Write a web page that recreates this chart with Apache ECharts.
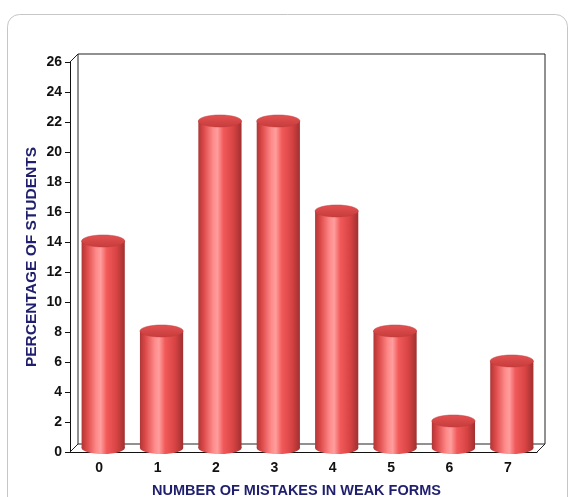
<!DOCTYPE html>
<html>
<head>
<meta charset="utf-8">
<script src="https://cdn.jsdelivr.net/npm/echarts@6/dist/echarts.min.js"></script>
<style>
  html, body { margin: 0; padding: 0; background: #ffffff; }
  #chart { width: 571px; height: 497px; }
</style>
</head>
<body>
<div id="chart"></div>
<script>
// Number of mistakes in weak forms vs. share of students
const categories = ['0', '1', '2', '3', '4', '5', '6', '7'];
const percentages = [14, 8, 22, 22, 16, 8, 2, 6];
const yTicks = [0, 2, 4, 6, 8, 10, 12, 14, 16, 18, 20, 22, 24, 26];

const DEPTH = 8;          // 3D wall offset in px
const FONT = '"Liberation Sans", Arial, sans-serif';
const NAVY = '#1f1f6e';

const bodyGradient = () => new echarts.graphic.LinearGradient(0, 0, 1, 0, [
  { offset: 0.00, color: '#b03636' },
  { offset: 0.12, color: '#dc4848' },
  { offset: 0.34, color: '#ff8a8a' },
  { offset: 0.44, color: '#ff9e9e' },
  { offset: 0.58, color: '#f25a5a' },
  { offset: 0.82, color: '#d64242' },
  { offset: 1.00, color: '#a03030' }
]);

const capGradient = () => new echarts.graphic.LinearGradient(0, 0, 0, 1, [
  { offset: 0, color: '#e45252' },
  { offset: 1, color: '#c63c3c' }
]);

// Back wall + side edges of the pseudo-3D frame
function renderFrame(params, api) {
  const cs = params.coordSys;
  const x0 = cs.x, y0 = cs.y, x1 = cs.x + cs.width, y1 = cs.y + cs.height;
  const d = DEPTH;
  const style = { stroke: '#222', lineWidth: 1, fill: null };
  return {
    type: 'group',
    silent: true,
    children: [
      { type: 'polyline', shape: { points: [[x0 + d, y1 - d], [x0 + d, y0 - d], [x1 + d, y0 - d], [x1 + d, y1 - d], [x0 + d, y1 - d]] }, style },
      { type: 'line', shape: { x1: x0, y1: y0, x2: x0 + d, y2: y0 - d }, style },
      { type: 'line', shape: { x1: x0, y1: y1, x2: x0 + d, y2: y1 - d }, style },
      { type: 'line', shape: { x1: x1, y1: y1, x2: x1 + d, y2: y1 - d }, style }
    ]
  };
}

// Cylinder bar drawn from the category and its value
function renderCylinder(params, api) {
  const base = api.coord([api.value(0), 0]);
  const top = api.coord([api.value(0), api.value(1)]);
  const w = api.size([1, 0])[0] * 0.74;
  const cx = base[0] + DEPTH / 2;
  const rx = w / 2, ry = 6;
  const yTop = top[1] - 1;
  const yBot = base[1] - DEPTH / 2;
  return {
    type: 'group',
    children: [
      { type: 'ellipse', shape: { cx, cy: yBot, rx, ry }, style: { fill: bodyGradient() } },
      { type: 'rect', shape: { x: cx - rx, y: yTop, width: w, height: yBot - yTop }, style: { fill: bodyGradient() } },
      { type: 'ellipse', shape: { cx, cy: yTop, rx, ry }, style: { fill: capGradient(), stroke: '#c23a3a', lineWidth: 0.5 } }
    ]
  };
}

const chart = echarts.init(document.getElementById('chart'), null, { renderer: 'canvas' });

chart.setOption({
  animation: false,
  backgroundColor: '#ffffff',
  graphic: [{
    type: 'rect',
    z: -10,
    silent: true,
    shape: { x: 7.5, y: 14.5, width: 560, height: 520, r: 12 },
    style: { fill: '#ffffff', stroke: '#c6c6c6', lineWidth: 1 }
  }],
  grid: { left: 70, right: 34, top: 62, bottom: 45, outerBoundsMode: 'none', containLabel: false },
  xAxis: {
    type: 'category',
    data: categories,
    name: 'NUMBER OF MISTAKES IN WEAK FORMS',
    nameLocation: 'middle',
    nameGap: 31,
    nameMoveOverlap: false,
    nameTextStyle: { color: NAVY, fontWeight: 'bold', fontSize: 14.5, fontFamily: FONT, verticalAlign: 'top', padding: [0, 14, 0, 0] },
    axisLine: { lineStyle: { color: '#111', width: 1 } },
    axisTick: { alignWithLabel: true, length: 5, lineStyle: { color: '#111' } },
    axisLabel: { color: '#111', fontWeight: 'bold', fontSize: 14, fontFamily: FONT, margin: 9 },
    splitLine: { show: false }
  },
  yAxis: {
    type: 'value',
    min: yTicks[0],
    max: yTicks[yTicks.length - 1],
    interval: yTicks[1] - yTicks[0],
    name: 'PERCENTAGE OF STUDENTS',
    nameLocation: 'middle',
    nameGap: 30,
    nameMoveOverlap: false,
    nameTextStyle: { color: NAVY, fontWeight: 'bold', fontSize: 15.5, fontFamily: FONT },
    axisLine: { show: true, lineStyle: { color: '#111', width: 1 } },
    axisTick: { show: true, length: 5, lineStyle: { color: '#111' } },
    axisLabel: { color: '#111', fontWeight: 'bold', fontSize: 14, fontFamily: FONT, margin: 8 },
    splitLine: { show: false }
  },
  series: [
    {
      type: 'custom',
      name: 'frame',
      renderItem: renderFrame,
      data: [[0, 0]],
      z: 1,
      silent: true
    },
    {
      type: 'custom',
      name: 'Students (%)',
      renderItem: renderCylinder,
      encode: { x: 0, y: 1 },
      data: categories.map((c, i) => [i, percentages[i]]),
      z: 2
    }
  ]
});
</script>
</body>
</html>
